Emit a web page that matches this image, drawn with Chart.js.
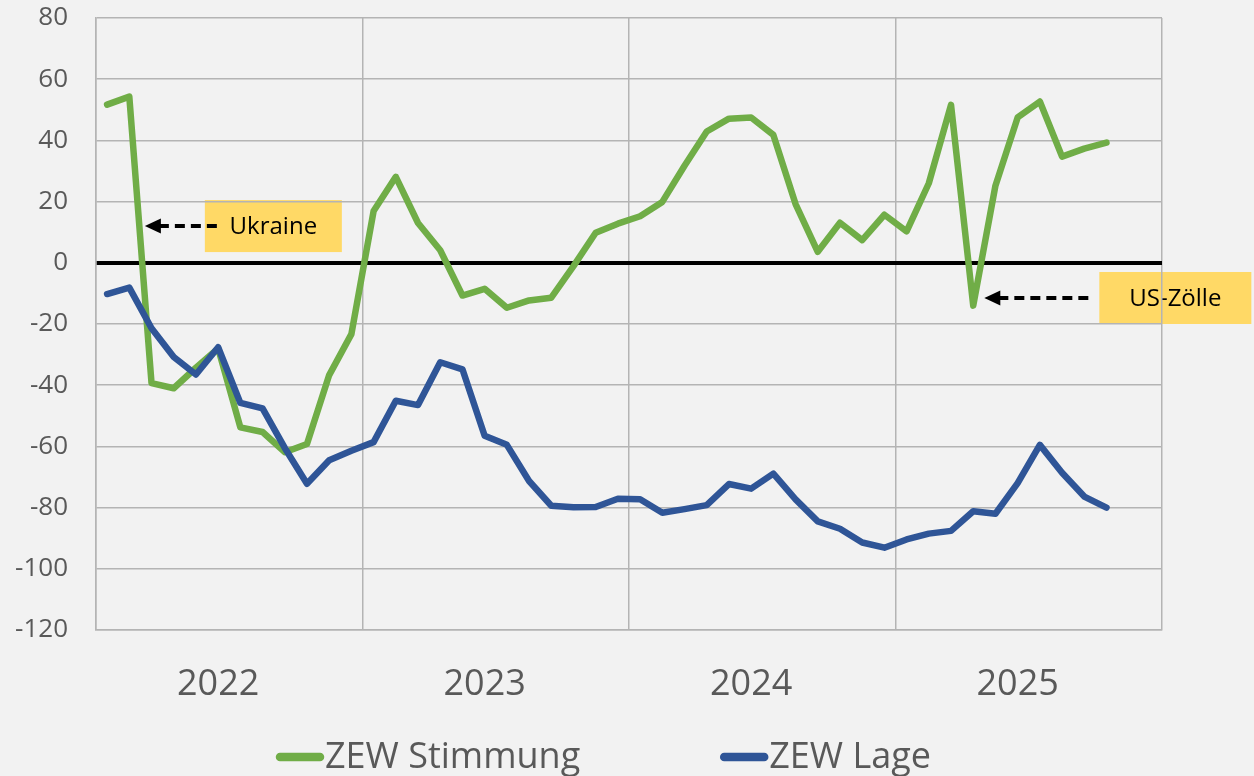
<!DOCTYPE html>
<html>
<head>
<meta charset="utf-8">
<script src="https://cdn.jsdelivr.net/npm/chart.js@4"></script>
<style>
  html, body { margin: 0; padding: 0; background: #f2f2f2; overflow: hidden; }
  #wrap { width: 1254px; height: 776px; position: relative; }
</style>
</head>
<body>
<div id="wrap"><canvas id="zew"></canvas></div>
<script>
// Jahre auf der x-Achse, je 12 Monate
const years = ["2022", "2023", "2024", "2025"];
const months = [];
years.forEach(y => {
    for (let m = 1; m <= 12; m++) months.push(y + "-" + String(m).padStart(2, "0"));
});

// ZEW Konjunkturerwartungen (Jan 2022 - Okt 2025)
const stimmung = [
    51.7, 54.3, -39.3, -41.0, -34.3, -28.0, -53.8, -55.3, -61.9, -59.2, -36.7, -23.3,
    16.9, 28.1, 13.0, 4.1, -10.7, -8.5, -14.7, -12.3, -11.4, -1.1, 9.8, 12.8,
    15.2, 19.9, 31.7, 42.9, 47.1, 47.5, 41.8, 19.2, 3.6, 13.1, 7.4, 15.7,
    10.3, 26.0, 51.6, -14.0, 25.2, 47.5, 52.7, 34.7, 37.3, 39.3
];

// ZEW aktuelle Lage
const lage = [
    -10.2, -8.1, -21.4, -30.8, -36.5, -27.6, -45.8, -47.6, -60.5, -72.2, -64.5, -61.4,
    -58.6, -45.1, -46.5, -32.5, -34.8, -56.5, -59.5, -71.3, -79.4, -79.9, -79.8, -77.1,
    -77.3, -81.7, -80.5, -79.2, -72.3, -73.8, -68.9, -77.3, -84.5, -86.9, -91.4, -93.1,
    -90.4, -88.5, -87.6, -81.2, -82.0, -72.0, -59.5, -68.6, -76.4, -80.0
];

const yTicks = [80, 60, 40, 20, 0, -20, -40, -60, -80, -100, -120];

// Hinweise im Chart (x = Monatsindex, y = Wert der Pfeilspitze)
const notes = [
    { text: "Ukraine", at: 1.7, value: 12, dashLen: 75, boxGap: 60, boxW: 137 },
    { text: "US-Zölle", at: 39.5, value: -11.5, dashLen: 105, boxGap: 115, boxW: 152 }
];

const GRID = "#b4b4b4";
const TEXT = "#595959";
const FONT = '"Open Sans", "Noto Sans", sans-serif';

// Hintergrund + gelbe Kästen mit Pfeilen
const notesPlugin = {
    id: "notes",
    beforeDraw(chart) {
        const { ctx, scales } = chart;
        ctx.save();
        ctx.fillStyle = "#f2f2f2";
        ctx.fillRect(0, 0, chart.width, chart.height);
        notes.forEach(n => {
            const x = scales.x.getPixelForValue(n.at);
            const y = scales.y.getPixelForValue(n.value);
            ctx.fillStyle = "#ffd966";
            ctx.fillRect(x + n.boxGap, y - 26, n.boxW, 52);
            // gestrichelter Pfeil
            ctx.strokeStyle = "#000";
            ctx.lineWidth = 4;
            ctx.setLineDash([10, 6]);
            ctx.beginPath();
            ctx.moveTo(x + 14, y);
            ctx.lineTo(x + n.dashLen, y);
            ctx.stroke();
            ctx.setLineDash([]);
            ctx.fillStyle = "#000";
            ctx.beginPath();
            ctx.moveTo(x, y);
            ctx.lineTo(x + 16, y - 7.5);
            ctx.lineTo(x + 16, y + 7.5);
            ctx.closePath();
            ctx.fill();
            ctx.font = "24px " + FONT;
            ctx.textAlign = "center";
            ctx.textBaseline = "middle";
            ctx.fillText(n.text, x + n.boxGap + n.boxW / 2, y + 1);
        });
        ctx.restore();
    }
};

// Legende unten, wie im Original mit Linienstück
const legendPlugin = {
    id: "bottomLegend",
    afterDraw(chart) {
        const ctx = chart.ctx;
        ctx.save();
        ctx.font = "36px " + FONT;
        ctx.textBaseline = "alphabetic";
        ctx.textAlign = "left";
        let x = 276;
        const y = 757;
        chart.data.datasets.forEach(ds => {
            ctx.strokeStyle = ds.borderColor;
            ctx.lineWidth = 8.5;
            ctx.lineCap = "round";
            ctx.beginPath();
            ctx.moveTo(x + 4, y);
            ctx.lineTo(x + 44, y);
            ctx.stroke();
            ctx.fillStyle = TEXT;
            ctx.fillText(ds.label, x + 49, 768);
            x += 49 + ctx.measureText(ds.label).width + 140;
        });
        ctx.restore();
    }
};

new Chart(document.getElementById("zew"), {
    type: "line",
    data: {
        labels: months,
        datasets: [
            {
                label: "ZEW Stimmung",
                data: stimmung,
                borderColor: "#70ad47",
                backgroundColor: "#70ad47",
                borderWidth: 6.5,
                pointRadius: 0,
                tension: 0,
                borderCapStyle: "round",
                borderJoinStyle: "round",
                order: 2
            },
            {
                label: "ZEW Lage",
                data: lage,
                borderColor: "#2f5597",
                backgroundColor: "#2f5597",
                borderWidth: 6.5,
                pointRadius: 0,
                tension: 0,
                borderCapStyle: "round",
                borderJoinStyle: "round",
                order: 1
            }
        ]
    },
    options: {
        responsive: true,
        maintainAspectRatio: false,
        animation: false,
        layout: { padding: { top: 18, right: 92, bottom: 72, left: 15 } },
        plugins: {
            legend: { display: false },
            tooltip: { enabled: false }
        },
        scales: {
            x: {
                offset: true,
                grid: {
                    offset: true,
                    drawTicks: false,
                    lineWidth: 1.5,
                    // nur Jahresgrenzen zeichnen
                    color: c => (c.index === undefined || c.index % 12 === 0) ? GRID : "transparent"
                },
                border: { color: GRID, width: 1.5 },
                ticks: {
                    autoSkip: false,
                    maxRotation: 0,
                    padding: 33,
                    color: TEXT,
                    font: { family: FONT, size: 36 },
                    callback: (v, i) => i % 12 === 5 ? years[Math.floor(i / 12)] : ""
                },
                afterFit: axis => {
                    axis.height = 74;
                    axis.paddingLeft = 0;
                    axis.paddingRight = 0;
                }
            },
            y: {
                min: -120,
                max: 80,
                afterBuildTicks: axis => { axis.ticks = yTicks.map(v => ({ value: v })); },
                grid: {
                    drawTicks: false,
                    color: c => c.tick && c.tick.value === 0 ? "#000" : GRID,
                    lineWidth: c => c.tick && c.tick.value === 0 ? 4 : 1.5
                },
                border: { color: GRID, width: 1.5 },
                ticks: {
                    padding: 28,
                    color: TEXT,
                    font: { family: FONT, size: 26 }
                },
                afterFit: axis => {
                    axis.width = 81;
                    axis.paddingTop = 0;
                    axis.paddingBottom = 0;
                }
            }
        }
    },
    plugins: [notesPlugin, legendPlugin]
});
</script>
</body>
</html>
